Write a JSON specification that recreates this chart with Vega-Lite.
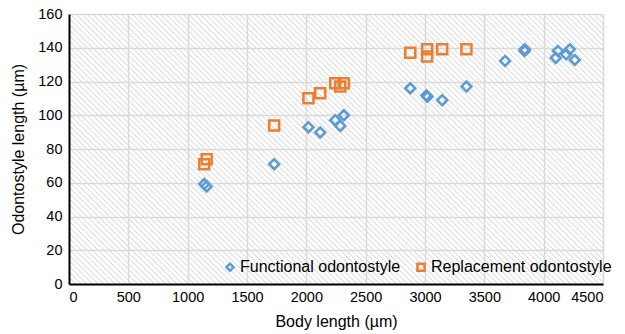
{
  "$schema": "https://vega.github.io/schema/vega-lite/v6.json",
  "width": 534,
  "height": 270,
  "autosize": {"type": "none"},
  "padding": {"left": 69, "top": 14, "right": 22, "bottom": 50},
  "background": "#ffffff",
  "view": {
    "stroke": null,
    "fill": {
      "gradient": "linear",
      "x1": 0, "y1": 1, "x2": 1.1991, "y2": 0.3937,
      "stops": [
{"offset":0,"color":"#ffffff"},{"offset":0.0013,"color":"#d3d3d3"},{"offset":0.0026,"color":"#ffffff"},
{"offset":0.007,"color":"#ffffff"},{"offset":0.0083,"color":"#d3d3d3"},{"offset":0.0096,"color":"#ffffff"},
{"offset":0.014,"color":"#ffffff"},{"offset":0.0153,"color":"#d3d3d3"},{"offset":0.0166,"color":"#ffffff"},
{"offset":0.021,"color":"#ffffff"},{"offset":0.0223,"color":"#d3d3d3"},{"offset":0.0236,"color":"#ffffff"},
{"offset":0.028,"color":"#ffffff"},{"offset":0.0293,"color":"#d3d3d3"},{"offset":0.0306,"color":"#ffffff"},
{"offset":0.035,"color":"#ffffff"},{"offset":0.0363,"color":"#d3d3d3"},{"offset":0.0376,"color":"#ffffff"},
{"offset":0.042,"color":"#ffffff"},{"offset":0.0433,"color":"#d3d3d3"},{"offset":0.0446,"color":"#ffffff"},
{"offset":0.049,"color":"#ffffff"},{"offset":0.0503,"color":"#d3d3d3"},{"offset":0.0516,"color":"#ffffff"},
{"offset":0.056,"color":"#ffffff"},{"offset":0.0573,"color":"#d3d3d3"},{"offset":0.0586,"color":"#ffffff"},
{"offset":0.063,"color":"#ffffff"},{"offset":0.0643,"color":"#d3d3d3"},{"offset":0.0656,"color":"#ffffff"},
{"offset":0.07,"color":"#ffffff"},{"offset":0.0713,"color":"#d3d3d3"},{"offset":0.0726,"color":"#ffffff"},
{"offset":0.077,"color":"#ffffff"},{"offset":0.0783,"color":"#d3d3d3"},{"offset":0.0796,"color":"#ffffff"},
{"offset":0.084,"color":"#ffffff"},{"offset":0.0853,"color":"#d3d3d3"},{"offset":0.0866,"color":"#ffffff"},
{"offset":0.091,"color":"#ffffff"},{"offset":0.0923,"color":"#d3d3d3"},{"offset":0.0936,"color":"#ffffff"},
{"offset":0.098,"color":"#ffffff"},{"offset":0.0993,"color":"#d3d3d3"},{"offset":0.1006,"color":"#ffffff"},
{"offset":0.105,"color":"#ffffff"},{"offset":0.1063,"color":"#d3d3d3"},{"offset":0.1076,"color":"#ffffff"},
{"offset":0.112,"color":"#ffffff"},{"offset":0.1133,"color":"#d3d3d3"},{"offset":0.1146,"color":"#ffffff"},
{"offset":0.119,"color":"#ffffff"},{"offset":0.1203,"color":"#d3d3d3"},{"offset":0.1216,"color":"#ffffff"},
{"offset":0.126,"color":"#ffffff"},{"offset":0.1273,"color":"#d3d3d3"},{"offset":0.1286,"color":"#ffffff"},
{"offset":0.133,"color":"#ffffff"},{"offset":0.1343,"color":"#d3d3d3"},{"offset":0.1356,"color":"#ffffff"},
{"offset":0.14,"color":"#ffffff"},{"offset":0.1413,"color":"#d3d3d3"},{"offset":0.1426,"color":"#ffffff"},
{"offset":0.147,"color":"#ffffff"},{"offset":0.1483,"color":"#d3d3d3"},{"offset":0.1496,"color":"#ffffff"},
{"offset":0.154,"color":"#ffffff"},{"offset":0.1553,"color":"#d3d3d3"},{"offset":0.1566,"color":"#ffffff"},
{"offset":0.161,"color":"#ffffff"},{"offset":0.1623,"color":"#d3d3d3"},{"offset":0.1636,"color":"#ffffff"},
{"offset":0.168,"color":"#ffffff"},{"offset":0.1693,"color":"#d3d3d3"},{"offset":0.1706,"color":"#ffffff"},
{"offset":0.175,"color":"#ffffff"},{"offset":0.1763,"color":"#d3d3d3"},{"offset":0.1776,"color":"#ffffff"},
{"offset":0.182,"color":"#ffffff"},{"offset":0.1833,"color":"#d3d3d3"},{"offset":0.1846,"color":"#ffffff"},
{"offset":0.189,"color":"#ffffff"},{"offset":0.1903,"color":"#d3d3d3"},{"offset":0.1916,"color":"#ffffff"},
{"offset":0.196,"color":"#ffffff"},{"offset":0.1973,"color":"#d3d3d3"},{"offset":0.1986,"color":"#ffffff"},
{"offset":0.203,"color":"#ffffff"},{"offset":0.2043,"color":"#d3d3d3"},{"offset":0.2056,"color":"#ffffff"},
{"offset":0.21,"color":"#ffffff"},{"offset":0.2113,"color":"#d3d3d3"},{"offset":0.2126,"color":"#ffffff"},
{"offset":0.217,"color":"#ffffff"},{"offset":0.2183,"color":"#d3d3d3"},{"offset":0.2196,"color":"#ffffff"},
{"offset":0.224,"color":"#ffffff"},{"offset":0.2253,"color":"#d3d3d3"},{"offset":0.2266,"color":"#ffffff"},
{"offset":0.231,"color":"#ffffff"},{"offset":0.2323,"color":"#d3d3d3"},{"offset":0.2336,"color":"#ffffff"},
{"offset":0.238,"color":"#ffffff"},{"offset":0.2393,"color":"#d3d3d3"},{"offset":0.2406,"color":"#ffffff"},
{"offset":0.245,"color":"#ffffff"},{"offset":0.2463,"color":"#d3d3d3"},{"offset":0.2476,"color":"#ffffff"},
{"offset":0.252,"color":"#ffffff"},{"offset":0.2533,"color":"#d3d3d3"},{"offset":0.2546,"color":"#ffffff"},
{"offset":0.259,"color":"#ffffff"},{"offset":0.2603,"color":"#d3d3d3"},{"offset":0.2616,"color":"#ffffff"},
{"offset":0.266,"color":"#ffffff"},{"offset":0.2673,"color":"#d3d3d3"},{"offset":0.2686,"color":"#ffffff"},
{"offset":0.273,"color":"#ffffff"},{"offset":0.2743,"color":"#d3d3d3"},{"offset":0.2756,"color":"#ffffff"},
{"offset":0.28,"color":"#ffffff"},{"offset":0.2813,"color":"#d3d3d3"},{"offset":0.2826,"color":"#ffffff"},
{"offset":0.287,"color":"#ffffff"},{"offset":0.2883,"color":"#d3d3d3"},{"offset":0.2896,"color":"#ffffff"},
{"offset":0.294,"color":"#ffffff"},{"offset":0.2953,"color":"#d3d3d3"},{"offset":0.2966,"color":"#ffffff"},
{"offset":0.301,"color":"#ffffff"},{"offset":0.3023,"color":"#d3d3d3"},{"offset":0.3036,"color":"#ffffff"},
{"offset":0.308,"color":"#ffffff"},{"offset":0.3093,"color":"#d3d3d3"},{"offset":0.3106,"color":"#ffffff"},
{"offset":0.315,"color":"#ffffff"},{"offset":0.3163,"color":"#d3d3d3"},{"offset":0.3176,"color":"#ffffff"},
{"offset":0.322,"color":"#ffffff"},{"offset":0.3233,"color":"#d3d3d3"},{"offset":0.3246,"color":"#ffffff"},
{"offset":0.329,"color":"#ffffff"},{"offset":0.3303,"color":"#d3d3d3"},{"offset":0.3316,"color":"#ffffff"},
{"offset":0.336,"color":"#ffffff"},{"offset":0.3373,"color":"#d3d3d3"},{"offset":0.3386,"color":"#ffffff"},
{"offset":0.343,"color":"#ffffff"},{"offset":0.3443,"color":"#d3d3d3"},{"offset":0.3456,"color":"#ffffff"},
{"offset":0.35,"color":"#ffffff"},{"offset":0.3513,"color":"#d3d3d3"},{"offset":0.3526,"color":"#ffffff"},
{"offset":0.357,"color":"#ffffff"},{"offset":0.3583,"color":"#d3d3d3"},{"offset":0.3596,"color":"#ffffff"},
{"offset":0.364,"color":"#ffffff"},{"offset":0.3653,"color":"#d3d3d3"},{"offset":0.3666,"color":"#ffffff"},
{"offset":0.371,"color":"#ffffff"},{"offset":0.3723,"color":"#d3d3d3"},{"offset":0.3736,"color":"#ffffff"},
{"offset":0.378,"color":"#ffffff"},{"offset":0.3793,"color":"#d3d3d3"},{"offset":0.3806,"color":"#ffffff"},
{"offset":0.385,"color":"#ffffff"},{"offset":0.3863,"color":"#d3d3d3"},{"offset":0.3876,"color":"#ffffff"},
{"offset":0.392,"color":"#ffffff"},{"offset":0.3933,"color":"#d3d3d3"},{"offset":0.3946,"color":"#ffffff"},
{"offset":0.399,"color":"#ffffff"},{"offset":0.4003,"color":"#d3d3d3"},{"offset":0.4016,"color":"#ffffff"},
{"offset":0.406,"color":"#ffffff"},{"offset":0.4073,"color":"#d3d3d3"},{"offset":0.4086,"color":"#ffffff"},
{"offset":0.413,"color":"#ffffff"},{"offset":0.4143,"color":"#d3d3d3"},{"offset":0.4156,"color":"#ffffff"},
{"offset":0.42,"color":"#ffffff"},{"offset":0.4213,"color":"#d3d3d3"},{"offset":0.4226,"color":"#ffffff"},
{"offset":0.427,"color":"#ffffff"},{"offset":0.4283,"color":"#d3d3d3"},{"offset":0.4296,"color":"#ffffff"},
{"offset":0.434,"color":"#ffffff"},{"offset":0.4353,"color":"#d3d3d3"},{"offset":0.4366,"color":"#ffffff"},
{"offset":0.441,"color":"#ffffff"},{"offset":0.4423,"color":"#d3d3d3"},{"offset":0.4436,"color":"#ffffff"},
{"offset":0.448,"color":"#ffffff"},{"offset":0.4493,"color":"#d3d3d3"},{"offset":0.4506,"color":"#ffffff"},
{"offset":0.455,"color":"#ffffff"},{"offset":0.4563,"color":"#d3d3d3"},{"offset":0.4576,"color":"#ffffff"},
{"offset":0.462,"color":"#ffffff"},{"offset":0.4633,"color":"#d3d3d3"},{"offset":0.4646,"color":"#ffffff"},
{"offset":0.469,"color":"#ffffff"},{"offset":0.4703,"color":"#d3d3d3"},{"offset":0.4716,"color":"#ffffff"},
{"offset":0.476,"color":"#ffffff"},{"offset":0.4773,"color":"#d3d3d3"},{"offset":0.4786,"color":"#ffffff"},
{"offset":0.483,"color":"#ffffff"},{"offset":0.4843,"color":"#d3d3d3"},{"offset":0.4856,"color":"#ffffff"},
{"offset":0.49,"color":"#ffffff"},{"offset":0.4913,"color":"#d3d3d3"},{"offset":0.4926,"color":"#ffffff"},
{"offset":0.497,"color":"#ffffff"},{"offset":0.4983,"color":"#d3d3d3"},{"offset":0.4996,"color":"#ffffff"},
{"offset":0.504,"color":"#ffffff"},{"offset":0.5053,"color":"#d3d3d3"},{"offset":0.5066,"color":"#ffffff"},
{"offset":0.511,"color":"#ffffff"},{"offset":0.5123,"color":"#d3d3d3"},{"offset":0.5136,"color":"#ffffff"},
{"offset":0.518,"color":"#ffffff"},{"offset":0.5193,"color":"#d3d3d3"},{"offset":0.5206,"color":"#ffffff"},
{"offset":0.525,"color":"#ffffff"},{"offset":0.5263,"color":"#d3d3d3"},{"offset":0.5276,"color":"#ffffff"},
{"offset":0.532,"color":"#ffffff"},{"offset":0.5333,"color":"#d3d3d3"},{"offset":0.5346,"color":"#ffffff"},
{"offset":0.539,"color":"#ffffff"},{"offset":0.5403,"color":"#d3d3d3"},{"offset":0.5416,"color":"#ffffff"},
{"offset":0.546,"color":"#ffffff"},{"offset":0.5473,"color":"#d3d3d3"},{"offset":0.5486,"color":"#ffffff"},
{"offset":0.553,"color":"#ffffff"},{"offset":0.5543,"color":"#d3d3d3"},{"offset":0.5556,"color":"#ffffff"},
{"offset":0.56,"color":"#ffffff"},{"offset":0.5613,"color":"#d3d3d3"},{"offset":0.5626,"color":"#ffffff"},
{"offset":0.567,"color":"#ffffff"},{"offset":0.5683,"color":"#d3d3d3"},{"offset":0.5696,"color":"#ffffff"},
{"offset":0.574,"color":"#ffffff"},{"offset":0.5753,"color":"#d3d3d3"},{"offset":0.5766,"color":"#ffffff"},
{"offset":0.581,"color":"#ffffff"},{"offset":0.5823,"color":"#d3d3d3"},{"offset":0.5836,"color":"#ffffff"},
{"offset":0.588,"color":"#ffffff"},{"offset":0.5893,"color":"#d3d3d3"},{"offset":0.5906,"color":"#ffffff"},
{"offset":0.595,"color":"#ffffff"},{"offset":0.5963,"color":"#d3d3d3"},{"offset":0.5976,"color":"#ffffff"},
{"offset":0.602,"color":"#ffffff"},{"offset":0.6033,"color":"#d3d3d3"},{"offset":0.6046,"color":"#ffffff"},
{"offset":0.609,"color":"#ffffff"},{"offset":0.6103,"color":"#d3d3d3"},{"offset":0.6116,"color":"#ffffff"},
{"offset":0.616,"color":"#ffffff"},{"offset":0.6173,"color":"#d3d3d3"},{"offset":0.6186,"color":"#ffffff"},
{"offset":0.623,"color":"#ffffff"},{"offset":0.6243,"color":"#d3d3d3"},{"offset":0.6256,"color":"#ffffff"},
{"offset":0.63,"color":"#ffffff"},{"offset":0.6313,"color":"#d3d3d3"},{"offset":0.6326,"color":"#ffffff"},
{"offset":0.637,"color":"#ffffff"},{"offset":0.6383,"color":"#d3d3d3"},{"offset":0.6396,"color":"#ffffff"},
{"offset":0.644,"color":"#ffffff"},{"offset":0.6453,"color":"#d3d3d3"},{"offset":0.6466,"color":"#ffffff"},
{"offset":0.651,"color":"#ffffff"},{"offset":0.6523,"color":"#d3d3d3"},{"offset":0.6536,"color":"#ffffff"},
{"offset":0.658,"color":"#ffffff"},{"offset":0.6593,"color":"#d3d3d3"},{"offset":0.6606,"color":"#ffffff"},
{"offset":0.665,"color":"#ffffff"},{"offset":0.6663,"color":"#d3d3d3"},{"offset":0.6676,"color":"#ffffff"},
{"offset":0.672,"color":"#ffffff"},{"offset":0.6733,"color":"#d3d3d3"},{"offset":0.6746,"color":"#ffffff"},
{"offset":0.679,"color":"#ffffff"},{"offset":0.6803,"color":"#d3d3d3"},{"offset":0.6816,"color":"#ffffff"},
{"offset":0.686,"color":"#ffffff"},{"offset":0.6873,"color":"#d3d3d3"},{"offset":0.6886,"color":"#ffffff"},
{"offset":0.693,"color":"#ffffff"},{"offset":0.6943,"color":"#d3d3d3"},{"offset":0.6956,"color":"#ffffff"},
{"offset":0.7,"color":"#ffffff"},{"offset":0.7013,"color":"#d3d3d3"},{"offset":0.7026,"color":"#ffffff"},
{"offset":0.707,"color":"#ffffff"},{"offset":0.7083,"color":"#d3d3d3"},{"offset":0.7096,"color":"#ffffff"},
{"offset":0.714,"color":"#ffffff"},{"offset":0.7153,"color":"#d3d3d3"},{"offset":0.7166,"color":"#ffffff"},
{"offset":0.721,"color":"#ffffff"},{"offset":0.7223,"color":"#d3d3d3"},{"offset":0.7236,"color":"#ffffff"},
{"offset":0.728,"color":"#ffffff"},{"offset":0.7293,"color":"#d3d3d3"},{"offset":0.7306,"color":"#ffffff"},
{"offset":0.735,"color":"#ffffff"},{"offset":0.7363,"color":"#d3d3d3"},{"offset":0.7376,"color":"#ffffff"},
{"offset":0.742,"color":"#ffffff"},{"offset":0.7433,"color":"#d3d3d3"},{"offset":0.7446,"color":"#ffffff"},
{"offset":0.749,"color":"#ffffff"},{"offset":0.7503,"color":"#d3d3d3"},{"offset":0.7516,"color":"#ffffff"},
{"offset":0.756,"color":"#ffffff"},{"offset":0.7573,"color":"#d3d3d3"},{"offset":0.7586,"color":"#ffffff"},
{"offset":0.763,"color":"#ffffff"},{"offset":0.7643,"color":"#d3d3d3"},{"offset":0.7656,"color":"#ffffff"},
{"offset":0.77,"color":"#ffffff"},{"offset":0.7713,"color":"#d3d3d3"},{"offset":0.7726,"color":"#ffffff"},
{"offset":0.777,"color":"#ffffff"},{"offset":0.7783,"color":"#d3d3d3"},{"offset":0.7796,"color":"#ffffff"},
{"offset":0.784,"color":"#ffffff"},{"offset":0.7853,"color":"#d3d3d3"},{"offset":0.7866,"color":"#ffffff"},
{"offset":0.791,"color":"#ffffff"},{"offset":0.7923,"color":"#d3d3d3"},{"offset":0.7936,"color":"#ffffff"},
{"offset":0.798,"color":"#ffffff"},{"offset":0.7993,"color":"#d3d3d3"},{"offset":0.8006,"color":"#ffffff"},
{"offset":0.805,"color":"#ffffff"},{"offset":0.8063,"color":"#d3d3d3"},{"offset":0.8076,"color":"#ffffff"},
{"offset":0.812,"color":"#ffffff"},{"offset":0.8133,"color":"#d3d3d3"},{"offset":0.8146,"color":"#ffffff"},
{"offset":0.819,"color":"#ffffff"},{"offset":0.8203,"color":"#d3d3d3"},{"offset":0.8216,"color":"#ffffff"},
{"offset":0.826,"color":"#ffffff"},{"offset":0.8273,"color":"#d3d3d3"},{"offset":0.8286,"color":"#ffffff"},
{"offset":0.833,"color":"#ffffff"},{"offset":0.8343,"color":"#d3d3d3"},{"offset":0.8356,"color":"#ffffff"},
{"offset":0.84,"color":"#ffffff"},{"offset":0.8413,"color":"#d3d3d3"},{"offset":0.8426,"color":"#ffffff"},
{"offset":0.847,"color":"#ffffff"},{"offset":0.8483,"color":"#d3d3d3"},{"offset":0.8496,"color":"#ffffff"},
{"offset":0.854,"color":"#ffffff"},{"offset":0.8553,"color":"#d3d3d3"},{"offset":0.8566,"color":"#ffffff"},
{"offset":0.861,"color":"#ffffff"},{"offset":0.8623,"color":"#d3d3d3"},{"offset":0.8636,"color":"#ffffff"},
{"offset":0.868,"color":"#ffffff"},{"offset":0.8693,"color":"#d3d3d3"},{"offset":0.8706,"color":"#ffffff"},
{"offset":0.875,"color":"#ffffff"},{"offset":0.8763,"color":"#d3d3d3"},{"offset":0.8776,"color":"#ffffff"},
{"offset":0.882,"color":"#ffffff"},{"offset":0.8833,"color":"#d3d3d3"},{"offset":0.8846,"color":"#ffffff"},
{"offset":0.889,"color":"#ffffff"},{"offset":0.8903,"color":"#d3d3d3"},{"offset":0.8916,"color":"#ffffff"},
{"offset":0.896,"color":"#ffffff"},{"offset":0.8973,"color":"#d3d3d3"},{"offset":0.8986,"color":"#ffffff"},
{"offset":0.903,"color":"#ffffff"},{"offset":0.9043,"color":"#d3d3d3"},{"offset":0.9056,"color":"#ffffff"},
{"offset":0.91,"color":"#ffffff"},{"offset":0.9113,"color":"#d3d3d3"},{"offset":0.9126,"color":"#ffffff"},
{"offset":0.917,"color":"#ffffff"},{"offset":0.9183,"color":"#d3d3d3"},{"offset":0.9196,"color":"#ffffff"},
{"offset":0.924,"color":"#ffffff"},{"offset":0.9253,"color":"#d3d3d3"},{"offset":0.9266,"color":"#ffffff"},
{"offset":0.931,"color":"#ffffff"},{"offset":0.9323,"color":"#d3d3d3"},{"offset":0.9336,"color":"#ffffff"},
{"offset":0.938,"color":"#ffffff"},{"offset":0.9393,"color":"#d3d3d3"},{"offset":0.9406,"color":"#ffffff"},
{"offset":0.945,"color":"#ffffff"},{"offset":0.9463,"color":"#d3d3d3"},{"offset":0.9476,"color":"#ffffff"},
{"offset":0.952,"color":"#ffffff"},{"offset":0.9533,"color":"#d3d3d3"},{"offset":0.9546,"color":"#ffffff"},
{"offset":0.959,"color":"#ffffff"},{"offset":0.9603,"color":"#d3d3d3"},{"offset":0.9616,"color":"#ffffff"},
{"offset":0.966,"color":"#ffffff"},{"offset":0.9673,"color":"#d3d3d3"},{"offset":0.9686,"color":"#ffffff"},
{"offset":0.973,"color":"#ffffff"},{"offset":0.9743,"color":"#d3d3d3"},{"offset":0.9756,"color":"#ffffff"},
{"offset":0.98,"color":"#ffffff"},{"offset":0.9813,"color":"#d3d3d3"},{"offset":0.9826,"color":"#ffffff"},
{"offset":0.987,"color":"#ffffff"},{"offset":0.9883,"color":"#d3d3d3"},{"offset":0.9896,"color":"#ffffff"},
{"offset":0.994,"color":"#ffffff"},{"offset":0.9953,"color":"#d3d3d3"},{"offset":0.9966,"color":"#ffffff"},
{"offset":1,"color":"#ffffff"}
      ]
    }
  },
  "data": {
    "values": [
      {"body": 1139, "length": 59.2, "type": "Functional odontostyle"},
      {"body": 1160, "length": 57.8, "type": "Functional odontostyle"},
      {"body": 1729, "length": 71.0, "type": "Functional odontostyle"},
      {"body": 2018, "length": 92.9, "type": "Functional odontostyle"},
      {"body": 2117, "length": 89.8, "type": "Functional odontostyle"},
      {"body": 2244, "length": 97.1, "type": "Functional odontostyle"},
      {"body": 2286, "length": 93.7, "type": "Functional odontostyle"},
      {"body": 2316, "length": 100.0, "type": "Functional odontostyle"},
      {"body": 2876, "length": 116.0, "type": "Functional odontostyle"},
      {"body": 3012, "length": 111.7, "type": "Functional odontostyle"},
      {"body": 3020, "length": 110.9, "type": "Functional odontostyle"},
      {"body": 3145, "length": 108.9, "type": "Functional odontostyle"},
      {"body": 3349, "length": 117.0, "type": "Functional odontostyle"},
      {"body": 3675, "length": 132.2, "type": "Functional odontostyle"},
      {"body": 3840, "length": 139.1, "type": "Functional odontostyle"},
      {"body": 3840, "length": 138.1, "type": "Functional odontostyle"},
      {"body": 4102, "length": 134.0, "type": "Functional odontostyle"},
      {"body": 4120, "length": 138.1, "type": "Functional odontostyle"},
      {"body": 4190, "length": 136.1, "type": "Functional odontostyle"},
      {"body": 4220, "length": 139.1, "type": "Functional odontostyle"},
      {"body": 4262, "length": 132.8, "type": "Functional odontostyle"},
      {"body": 1160, "length": 74.0, "type": "Replacement odontostyle"},
      {"body": 1139, "length": 71.0, "type": "Replacement odontostyle"},
      {"body": 1729, "length": 93.9, "type": "Replacement odontostyle"},
      {"body": 2018, "length": 110.1, "type": "Replacement odontostyle"},
      {"body": 2117, "length": 113.1, "type": "Replacement odontostyle"},
      {"body": 2244, "length": 119.0, "type": "Replacement odontostyle"},
      {"body": 2286, "length": 117.0, "type": "Replacement odontostyle"},
      {"body": 2316, "length": 119.0, "type": "Replacement odontostyle"},
      {"body": 2876, "length": 137.1, "type": "Replacement odontostyle"},
      {"body": 3018, "length": 139.1, "type": "Replacement odontostyle"},
      {"body": 3018, "length": 134.8, "type": "Replacement odontostyle"},
      {"body": 3145, "length": 139.1, "type": "Replacement odontostyle"},
      {"body": 3349, "length": 139.1, "type": "Replacement odontostyle"}
    ]
  },
  "mark": {"type": "point", "filled": false, "strokeWidth": 2.5, "size": 100, "opacity": 1},
  "encoding": {
    "x": {
      "field": "body", "type": "quantitative",
      "scale": {"domain": [0, 4500], "nice": false, "zero": true},
      "axis": {"title": "Body length (µm)", "format": "d", "values": [0, 500, 1000, 1500, 2000, 2500, 3000, 3500, 4000, 4500], "titlePadding": 10, "labelPadding": 6}
    },
    "y": {
      "field": "length", "type": "quantitative",
      "scale": {"domain": [0, 160], "nice": false, "zero": true},
      "axis": {"title": "Odontostyle length (µm)", "format": "d", "values": [0, 20, 40, 60, 80, 100, 120, 140, 160], "titlePadding": 11, "labelPadding": 7}
    },
    "color": {
      "field": "type", "type": "nominal",
      "scale": {"domain": ["Functional odontostyle", "Replacement odontostyle"], "range": ["#5b9bd5", "#ed7d31"]},
      "legend": {"title": null, "orient": "none", "legendX": 153, "legendY": 245, "direction": "horizontal"}
    },
    "shape": {
      "field": "type", "type": "nominal",
      "scale": {"domain": ["Functional odontostyle", "Replacement odontostyle"], "range": ["diamond", "square"]},
      "legend": {"title": null, "orient": "none", "legendX": 153, "legendY": 245, "direction": "horizontal"}
    }
  },
  "config": {
    "font": "Liberation Sans",
    "axis": {
      "domain": true, "domainColor": "#000000", "domainWidth": 2,
      "ticks": false,
      "grid": true, "gridColor": "#d9d9d9", "gridWidth": 1.5,
      "labelFont": "Liberation Sans", "labelFontSize": 14.5, "labelColor": "#000000",
      "titleFont": "Liberation Sans", "titleFontSize": 16, "titleFontWeight": "normal", "titleColor": "#000000"
    },
    "legend": {
      "labelFont": "Liberation Sans", "labelFontSize": 16, "labelColor": "#000000",
      "symbolSize": 50, "symbolStrokeWidth": 2.5, "symbolType": "circle",
      "labelOffset": 2, "columnPadding": 11, "padding": 0, "labelLimit": 300
    }
  }
}
